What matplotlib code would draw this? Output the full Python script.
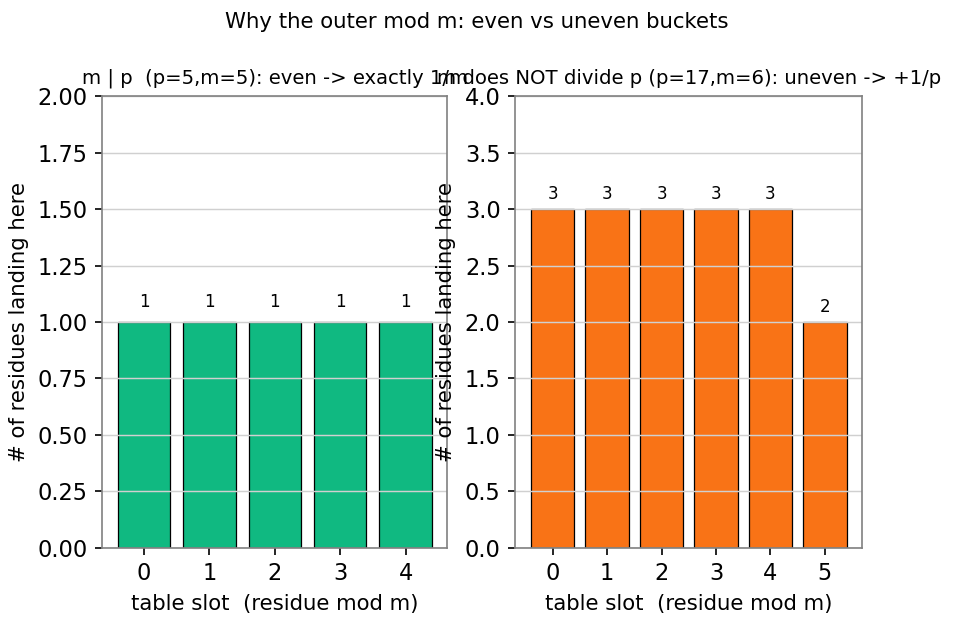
import matplotlib
matplotlib.use("Agg")
import matplotlib.pyplot as plt

# bucket counts for each case
slots_even = [0, 1, 2, 3, 4]
counts_even = [1, 1, 1, 1, 1]
slots_uneven = [0, 1, 2, 3, 4, 5]
counts_uneven = [3, 3, 3, 3, 3, 2]

title_even = "m | p  (p=5,m=5): even -> exactly 1/m"
title_uneven = "m does NOT divide p (p=17,m=6): uneven -> +1/p"


def draw(ax, slots, counts, color, title, ymax):
    ax.bar(slots, counts, color=color, edgecolor="black", linewidth=0.6)
    for x, c in zip(slots, counts):
        ax.text(x, c + 0.05, str(c), ha="center", va="bottom", fontsize=8)
    ax.set_ylim(0, ymax)
    ax.set_xticks(slots)
    ax.set_title(title, fontsize=9.4)
    ax.set_xlabel("table slot  (residue mod m)", fontsize=10.2)
    ax.set_ylabel("# of residues landing here", fontsize=10.2)
    ax.tick_params(labelsize=10.8)
    ax.grid(axis="y", color="#d0d0d0", linewidth=0.7)
    for s in ax.spines.values():
        s.set_color("#808080")


fig = plt.figure(figsize=(6.36, 4.16), dpi=150)
ax1 = fig.add_axes([0.107, 0.122, 0.362, 0.724])
ax2 = fig.add_axes([0.540, 0.122, 0.364, 0.724])

draw(ax1, slots_even, counts_even, "#10b981", title_even, 2.0)
draw(ax2, slots_uneven, counts_uneven, "#f97316", title_uneven, 4.0)

fig.suptitle("Why the outer mod m: even vs uneven buckets", fontsize=10.2, y=0.98)
fig.savefig("out.png", dpi=150)
